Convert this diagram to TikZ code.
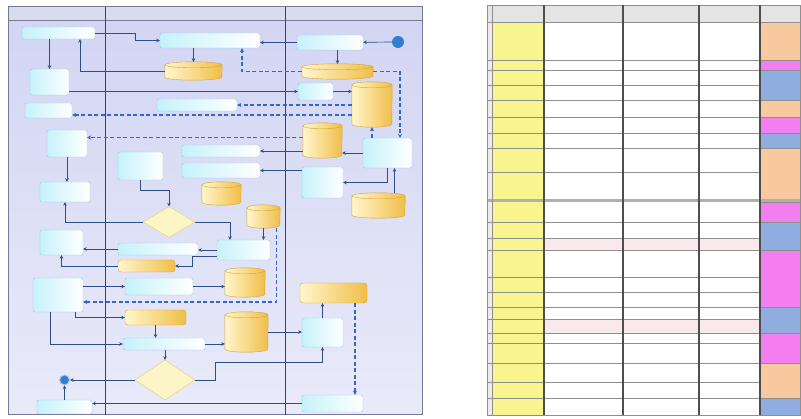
\documentclass[tikz,border=0pt]{standalone}
\usetikzlibrary{shapes.geometric,arrows.meta}
\definecolor{lanetop}{HTML}{D2D5F3}
\definecolor{lanebot}{HTML}{E9EAF9}
\definecolor{lanehead}{HTML}{D8DBEE}
\definecolor{laneline}{HTML}{3C4068}
\definecolor{taskline}{HTML}{8CCBE4}
\definecolor{taskfill}{HTML}{C6F2FB}
\definecolor{storeline}{HTML}{D6A236}
\definecolor{storelight}{HTML}{FFF6CC}
\definecolor{storedark}{HTML}{F0BE48}
\definecolor{askline}{HTML}{E3CF72}
\definecolor{askfill}{HTML}{FCF5C6}
\definecolor{flowline}{HTML}{2E4E86}
\definecolor{feedline}{HTML}{3566C8}
\definecolor{dotblue}{HTML}{2F7FCF}
\definecolor{gridline}{HTML}{8E8E8E}
\definecolor{gridbold}{HTML}{4E4E4E}
\definecolor{headgray}{HTML}{E4E4E4}
\definecolor{keyyellow}{HTML}{F8F590}
\definecolor{tagorange}{HTML}{FAC89E}
\definecolor{tagpink}{HTML}{F27EF0}
\definecolor{tagblue}{HTML}{8FAEDF}
\definecolor{redrow}{HTML}{FAE9EC}
\tikzset{
  sz/.style 2 args={minimum width=#1pt, minimum height=#2pt},
  task/.style={draw=taskline, rounded corners=2pt, left color=taskfill, right color=white, inner sep=0pt},
  storebox/.style={rounded corners=3pt, draw=storeline, left color=storelight, right color=storedark, inner sep=0pt},
  ask/.style={diamond, draw=askline, fill=askfill, inner sep=0pt},
  flow/.style={draw=flowline, line width=0.7pt, -{Stealth[length=3.5pt,width=3.5pt]}},
  feed/.style={draw=feedline, line width=1.5pt, dash pattern=on 4pt off 2.5pt, -{Stealth[length=4pt,width=4pt]}},
}
% name, x, y, width, height
\newcommand\storage[5]{%
  \node[sz={#4}{#5}, inner sep=0pt] (#1) at (#2,#3) {};
  \shade[left color=storelight, right color=storedark, draw=storeline]
    ([yshift=-3pt]#1.north west) -- ([yshift=3pt]#1.south west)
    arc[start angle=180, end angle=360, x radius={#4*0.5pt}, y radius=3pt]
    -- ([yshift=-3pt]#1.north east)
    arc[start angle=0, end angle=180, x radius={#4*0.5pt}, y radius=3pt] -- cycle;
  \draw[storeline] ([yshift=-3pt]#1.north west)
    arc[start angle=180, end angle=360, x radius={#4*0.5pt}, y radius=3pt];
}
\begin{document}
\begin{tikzpicture}[x=1pt,y=-1pt]
\useasboundingbox (0,0) rectangle (801,419);
\shade[top color=lanetop, bottom color=lanebot] (8,7) rectangle (422,415);
\fill[lanehead] (8,7) rectangle (422,20);
\draw[laneline!70, line width=1pt] (8,7) rectangle (422,415);
\draw[laneline!70] (8,20) -- (422,20);
\foreach \x in {105,285}
  \draw[laneline, line width=1pt] (\x,7) -- (\x,415);

\node[task, sz={73}{12}] (A) at (58.5,33) {};
\node[task, sz={39}{26}] (B) at (49.5,82) {};
\node[task, sz={47}{15}] (C) at (48.5,110.5) {};
\node[task, sz={40}{27}] (J) at (67,143.5) {};
\node[task, sz={50}{20}] (K) at (65,192) {};
\node[task, sz={43}{25}] (O) at (61.5,242.5) {};
\node[task, sz={50}{34}] (Z) at (58,295) {};
\node[circle, fill=dotblue, draw=dotblue!40, line width=1pt, minimum size=10pt, inner sep=0pt] (finish) at (64.5,380) {};
\node[task, sz={55}{14}] (AE) at (64.5,407) {};

\node[task, sz={100}{15}] (D) at (210,40.5) {};
\storage{S1}{193.5}{71}{57}{18}
\node[task, sz={80}{12}] (H) at (197,105) {};
\node[task, sz={45}{28}] (L) at (140.5,166) {};
\node[task, sz={78}{12}] (Q) at (221,151) {};
\node[task, sz={78}{15}] (R) at (221,170.5) {};
\storage{W}{221.5}{193.5}{39}{23}
\storage{X}{263.5}{216.5}{33}{23}
\node[ask, sz={52}{31}] (M) at (169,222) {};
\node[task, sz={53}{20}] (Y) at (243.5,250) {};
\node[task, sz={80}{12}] (N) at (158,249) {};
\node[storebox, sz={57}{12}] (P) at (146.5,266) {};
\node[task, sz={68}{17}] (AA) at (159,286.5) {};
\storage{AB}{245}{282.5}{40}{29}
\node[storebox, sz={61}{15}] (P2) at (155.5,317.5) {};
\storage{AG}{246.5}{332}{43}{40}
\node[task, sz={82}{12}] (AC) at (164,344) {};
\node[ask, sz={60}{40}] (AD) at (165,380) {};

\node[circle, fill=dotblue, minimum size=12pt, inner sep=0pt] (start) at (398,42) {};
\node[task, sz={66}{15}] (E) at (330,42.5) {};
\storage{WC}{337.5}{71.5}{71}{15}
\node[task, sz={35}{17}] (F) at (315.5,91.5) {};
\storage{G}{372}{104.5}{40}{45}
\storage{I}{322.5}{140.5}{39}{35}
\node[task, sz={49}{30}] (U) at (387.5,153) {};
\node[task, sz={41}{31}] (S) at (322.5,182.5) {};
\storage{V}{378.5}{205.5}{53}{25}
\node[storebox, sz={67}{20}] (AI) at (333.5,293) {};
\node[task, sz={41}{29}] (AH) at (322.5,332.5) {};
\node[task, sz={61}{17}] (AF) at (332.5,403.5) {};

\coordinate (jin) at ([yshift=6pt]J.east);
\coordinate (cin) at ([yshift=-4.5pt]C.east);
\coordinate (zin) at ([yshift=-7pt]Z.east);

\draw[flow] (start) -- (E);
\draw[flow] (E.west) -- (E.west -| D.east);
\draw[flow] (B |- A.south) -- (B.north);
\draw[flow] (S1.west) -| ([xshift=21.5pt]A.south);
\draw[flow] (A.east) -- ++(40,0) |- (D.west);
\draw[flow] (S1.north |- D.south) -- (S1.north);
\draw[flow] (WC.north |- E.south) -- (WC.north);
\draw[flow] (B.east |- F.west) -- (F.west);
\draw[flow] (F.east) -- (F.east -| G.west);
\draw[flow] (L.south) -- ++(0,10) -| (M.north);
\draw[flow] (M.west) -| (K.south);
\draw[flow] (M.east) -| ([xshift=-13.5pt]Y.north);
\draw[flow] (X.south) -- (X.south |- Y.north);
\draw[flow] (Y.west) -- (Y.west -| N.east);
\draw[flow] (N.west) -- (N.west -| O.east);
\draw[flow] (P.west) -| (O.south);
\draw[flow] ([yshift=-6pt]Y.west) -- ++(-24,0) |- (P.east);
\draw[flow] (J.south) -- (J.south |- K.north);
\draw[flow] (S.west |- R.east) -- (R.east);
\draw[flow] (I.west |- Q.east) -- (Q.east);
\draw[flow] (U.west) -- (U.west -| I.east);
\draw[flow] ([xshift=16pt]V.north) -- ([xshift=16pt]V.north |- U.south);
\draw[flow] (U.south) |- (S.east);
\draw[flow] (Z.east |- AA.west) -- (AA.west);
\draw[flow] (AA.east) -- (AA.east -| AB.west);
\draw[flow] ([xshift=17pt]Z.south) |- (P2.west);
\draw[flow] (P2.south) -- (P2.south |- AC.north);
\draw[flow] ([xshift=-8pt]Z.south) |- (AC.west);
\draw[flow] (AC.east) -- (AC.east -| AG.west);
\draw[flow] (AG.east) -- (AG.east -| AH.west);
\draw[flow] (AD.north |- AC.south) -- (AD.north);
\draw[flow] (AD.west) -- (finish.east);
\draw[flow] (AE.north) -- (finish.south);
\draw[flow] (AD.east) -- ++(20,0) -- ++(0,-18) -| (AH.south);
\draw[flow] (AH.north) -- (AH.north |- AI.south);
\draw[flow] (AF.west) -- (AF.west -| AE.east);

\draw[feed] (WC.west) -| ([xshift=32pt]D.south);
\draw[feed] (WC.east) -| ([xshift=12.5pt]U.north);
\draw[feed] (G.west |- H.east) -- (H.east);
\draw[feed] (G.west |- cin) -- (cin);
\draw[feed] (I.west |- jin) -- (jin);
\draw[feed] (G.south |- U.north) -- (G.south);
\draw[feed] ([xshift=13pt]X.south) |- (zin);
\draw[feed] ([xshift=21.5pt]AI.south) -- ([xshift=21.5pt]AI.south |- AF.north);

\fill[headgray] (487,5) rectangle (800,22);
\fill[headgray!70] (487,22) rectangle (492,415);
\fill[keyyellow] (492,22) rectangle (544,415);
\fill[redrow] (544,238) rectangle (760,250);
\fill[redrow] (544,319) rectangle (760,333);
\foreach \ya/\yb/\c in {22/60/tagorange,60/70/tagpink,70/100/tagblue,100/117/tagorange,
    117/133/tagpink,133/148/tagblue,148/199/tagorange,202/222/tagpink,222/250/tagblue,
    250/307/tagpink,307/333/tagblue,333/363/tagpink,363/398/tagorange,398/415/tagblue}{
  \fill[\c] (760,\ya) rectangle (800,\yb);
  \draw[gridline, line width=0.6pt] (760,\ya) -- (800,\ya);
}
\foreach \y in {22,60,70,85,100,117,133,148,172,222,238,250,277,292,307,319,333,343,363,382,398}
  \draw[gridline, line width=0.6pt] (487,\y) -- (760,\y);
\fill[gridline!70] (487,199) rectangle (800,202);
\draw[gridline, line width=0.6pt] (487,5) rectangle (800,415);
\draw[gridline, line width=0.6pt] (492,5) -- (492,415);
\foreach \x in {544,623,699,760}
  \draw[gridbold, line width=1.6pt] (\x,5) -- (\x,415);
\end{tikzpicture}
\end{document}
